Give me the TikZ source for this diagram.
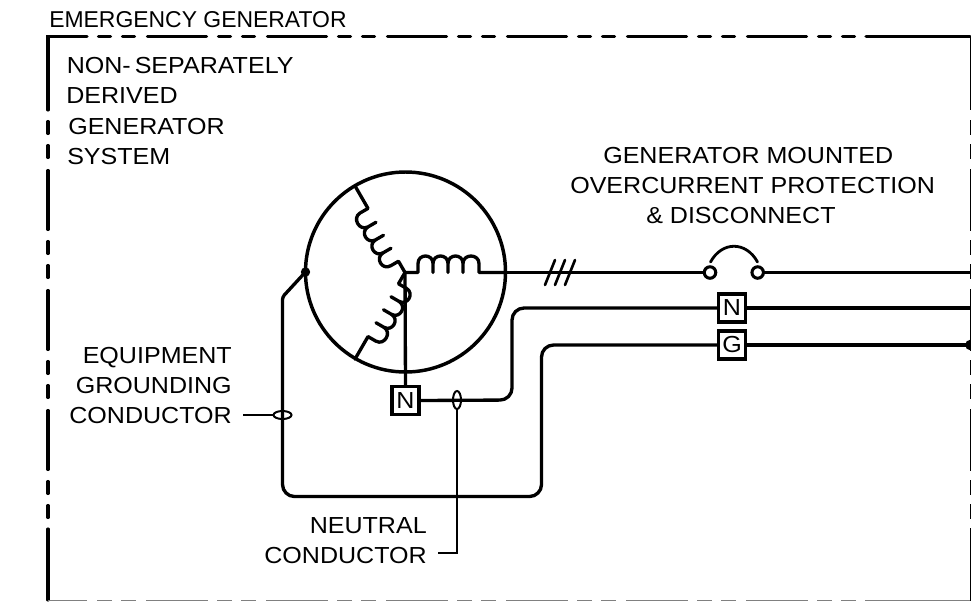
\documentclass[tikz,border=0pt]{standalone}
\usepackage{fontspec}
\setmainfont{Liberation Sans}
\newfontfamily\widesans[FakeStretch=1.08]{Liberation Sans}
\usetikzlibrary{shapes.geometric}
\tikzset{
  wire/.style={line width=2.5pt,line join=round,line cap=round},
  thinwire/.style={line width=1.5pt},
  lbl/.style={font=\widesans\fontsize{17.4}{20}\selectfont,inner sep=0pt,anchor=base west},
  lblr/.style={font=\widesans\fontsize{17.4}{20}\selectfont,inner sep=0pt,anchor=base east},
  termbox/.style={draw,line width=2.4pt,minimum width=20.2pt,minimum height=21pt,inner sep=0pt,font=\widesans\fontsize{17.4}{20}\selectfont},
  contact/.style={circle,draw,line width=2.3pt,minimum size=8.6pt,inner sep=0pt},
  dotnode/.style={circle,fill=black,inner sep=0pt},
  ovalv/.style={ellipse,draw,line width=1.5pt,minimum width=6pt,minimum height=13.5pt,inner sep=0pt},
  ovalh/.style={ellipse,draw,line width=1.5pt,minimum width=13.5pt,minimum height=6pt,inner sep=0pt},
  brd/.style={line width=2.3pt,line cap=round},
  brdd/.style={brd,dash pattern=on 9pt off 9pt on 9pt off 9.75pt on 44.25pt off 9pt},
  brdR/.style={line width=1.3pt},
  brdRd/.style={brdR,dash pattern=on 11.25pt off 6.75pt on 11.25pt off 7.5pt on 46.5pt off 6.75pt},
  brdB/.style={line width=0.8pt,draw=black!50},
  brdBd/.style={brdB,dash pattern=on 11.25pt off 6.75pt on 11.25pt off 7.5pt on 46.5pt off 6.75pt},
  coil/.pic={
    \draw[wire] (0,0) -- (13,0) -- (13,-9)
      .. controls (13,-19) and (28,-19) .. (28,-9) -- (28,0) -- (28,-9)
      .. controls (28,-19) and (43,-19) .. (43,-9) -- (43,0) -- (43,-9)
      .. controls (43,-19) and (58,-19) .. (58,-9) -- (58,0) -- (58,-9)
      .. controls (58,-19) and (74,-19) .. (74,-9) -- (74,0) -- (100,0);
  }
}
\begin{document}
\begin{tikzpicture}[x=0.75pt,y=-0.75pt]
\useasboundingbox (0,0) rectangle (971,601);
% border
\draw[brd] (48,110) -- (48,36.5) -- (87,36.5);
\draw[brdd] (98.5,36.5) -- (863,36.5);
\draw[brd] (866,36.5) -- (970,36.5);
\draw[brdR] (970.4,36.5) -- (970.4,110);
\draw[brdd] (48,121.5) -- (48,527);
\draw[brd] (48,529) -- (48,600);
\draw[brdRd] (970.4,120) -- (970.4,527);
\draw[brdR] (970.4,528) -- (970.4,600.5);
\draw[brdB] (48,600.5) -- (87,600.5);
\draw[brdBd] (97,600.5) -- (864,600.5);
\draw[brdB] (865,600.5) -- (970.4,600.5);
% generator
\node[circle,draw,line width=2.6pt,minimum size=150pt,inner sep=0pt] (gen) at (405.5,272) {};
\coordinate (ctr) at (405,272.5);
\pic[rotate=120] at (ctr) {coil};
\pic[rotate=240] at (ctr) {coil};
\pic at (ctr) {coil};
% terminals and devices
\node[termbox] (n1) at (405.5,400.5) {N};
\node[termbox] (n2) at (732,308) {N};
\node[termbox] (g2) at (732,345) {G};
\node[contact] (f1) at (710,272.5) {};
\node[contact] (f2) at (757.7,272.5) {};
\node[dotnode,minimum size=7pt] (gnd) at (305.5,272) {};
\node[dotnode,minimum size=8pt] (gnd2) at (970.5,345) {};
\node[ovalv] (ov1) at (457,400) {};
\node[ovalh] (ov2) at (282.5,415) {};
\coordinate (e1) at (972,272.5);
\coordinate (e2) at (972,308);
\coordinate (lead1) at (243,415);
\coordinate (lead2) at (438,553);
% connectors
\draw[wire] (ctr) -- (n1.north);
\draw[wire] (505,272.5) -- (f1.west);
\draw[wire] (f2.east) -- (e1);
\draw[wire,line width=2.1pt] (710.5,262) .. controls (722,241) and (746,241) .. (757.5,262);
\draw[wire,rounded corners=9pt] (n1.east) -- (512,400) -- (512,308) -- (n2.west);
\draw[wire] (n2.east) -- (e2);
\draw[wire,rounded corners=2pt] (gnd.center) -- (282.5,297) -- (282.5,415);
\draw[wire,rounded corners=9pt] (282.5,415) -- (282.5,496.5) -- (541.5,496.5) -- (541.5,345) -- (g2.west);
\draw[wire] (g2.east) -- (gnd2.center);
\draw[wire,line width=2pt] (545,285) -- (555,260);
\draw[wire,line width=2pt] (555,285) -- (565,260);
\draw[wire,line width=2pt] (565,285) -- (575,260);
\draw[thinwire] (lead1) -- (ov2.west);
\draw[thinwire] (ov1.south) |- (lead2);
% labels
\node[lbl,font=\rmfamily\fontsize{17.2}{20}\selectfont] (t1) at (49,27) {EMERGENCY GENERATOR};
\node[lbl] (t2) at (66.5,73) {NON-\kern3pt SEPARATELY};
\node[lbl] (t3) at (66,103.5) {DERIVED};
\node[lbl] (t4) at (68,134) {GENERATOR};
\node[lbl] (t5) at (67,164) {SYSTEM};
\node[lbl] (t6) at (603,163) {GENERATOR MOUNTED};
\node[lbl] (t7) at (570,193) {OVERCURRENT PROTECTION};
\node[lbl] (t8) at (646,223) {\& DISCONNECT};
\node[lblr] (t9) at (232,363) {EQUIPMENT};
\node[lblr] (t10) at (232,393) {GROUNDING};
\node[lblr] (t11) at (232,423) {CONDUCTOR};
\node[lblr] (t12) at (427,533) {NEUTRAL};
\node[lblr] (t13) at (427,563) {CONDUCTOR};
\end{tikzpicture}
\end{document}
